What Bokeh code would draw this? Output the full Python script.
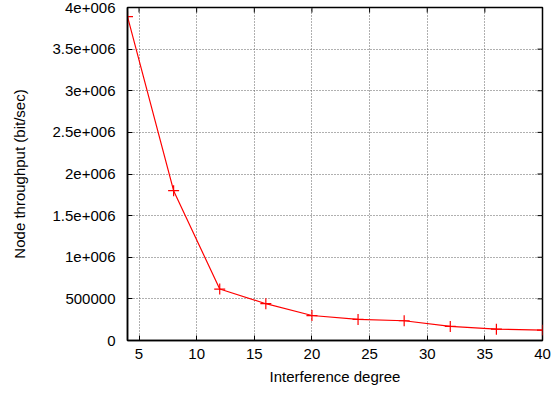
import math
from bokeh.plotting import figure
from bokeh.models import FixedTicker, Range1d
from bokeh.embed import file_html
from bokeh.resources import INLINE

degree = [4, 8, 12, 16, 20, 24, 28, 32, 36, 40]
throughput = [3890000, 1800000, 618000, 442000, 300000, 253000, 237000, 169000, 136000, 124000]

x_ticks = [5, 10, 15, 20, 25, 30, 35, 40]
y_ticks = [0, 500000, 1000000, 1500000, 2000000, 2500000, 3000000, 3500000, 4000000]
y_tick_labels = ["0", "500000", "1e+006", "1.5e+006", "2e+006", "2.5e+006", "3e+006", "3.5e+006", "4e+006"]

X_MIN, X_MAX = 4, 40
Y_MIN, Y_MAX = 0, 4000000

FONT = "Liberation Sans"
FS = "15px"

p = figure(width=553, height=397, output_backend="svg", toolbar_location=None,
           x_range=Range1d(X_MIN, X_MAX), y_range=Range1d(Y_MIN, Y_MAX),
           min_border_left=127, min_border_right=11, min_border_top=7, min_border_bottom=57,
           x_axis_label="Interference degree", y_axis_label="Node throughput (bit/sec)")
p.background_fill_color = "white"
p.border_fill_color = "white"
p.outline_line_color = "black"
p.outline_line_width = 1.5

p.xaxis.ticker = FixedTicker(ticks=x_ticks)
p.yaxis.ticker = FixedTicker(ticks=y_ticks)
p.yaxis.major_label_overrides = {t: l for t, l in zip(y_ticks, y_tick_labels)}

for ax in (p.xaxis[0], p.yaxis[0]):
    ax.axis_line_color = "black"
    ax.axis_line_width = 1.5
    ax.major_tick_in = 5
    ax.major_tick_out = 0
    ax.minor_tick_in = 0
    ax.minor_tick_out = 0
    ax.major_tick_line_color = "black"
    ax.major_label_text_font = FONT
    ax.major_label_text_font_size = FS
    ax.major_label_text_color = "black"
    ax.axis_label_text_font = FONT
    ax.axis_label_text_font_size = FS
    ax.axis_label_text_font_style = "normal"
    ax.axis_label_text_color = "black"

p.yaxis.major_label_standoff = 12
p.yaxis.axis_label_standoff = 22
p.xaxis.major_label_standoff = 8
p.xaxis.axis_label_standoff = 6

p.xgrid.ticker = FixedTicker(ticks=x_ticks)
p.ygrid.ticker = FixedTicker(ticks=y_ticks)
for g in (p.xgrid[0], p.ygrid[0]):
    g.grid_line_color = "#606060"
    g.grid_line_dash = "1 2"
    g.grid_line_width = 1

# mirrored inward ticks on top and right borders
p.ray(x=x_ticks, y=[Y_MAX] * len(x_ticks), length=5, length_units="screen",
      angle=-math.pi / 2, line_color="black", line_width=1)
p.ray(x=[X_MAX] * len(y_ticks), y=y_ticks, length=5, length_units="screen",
      angle=math.pi, line_color="black", line_width=1)

p.line(degree, throughput, line_color="red", line_width=1.2)
p.scatter(degree, throughput, marker="cross", size=11, line_color="red", line_width=1.2)

open("out.html", "w").write(file_html(p, INLINE))
